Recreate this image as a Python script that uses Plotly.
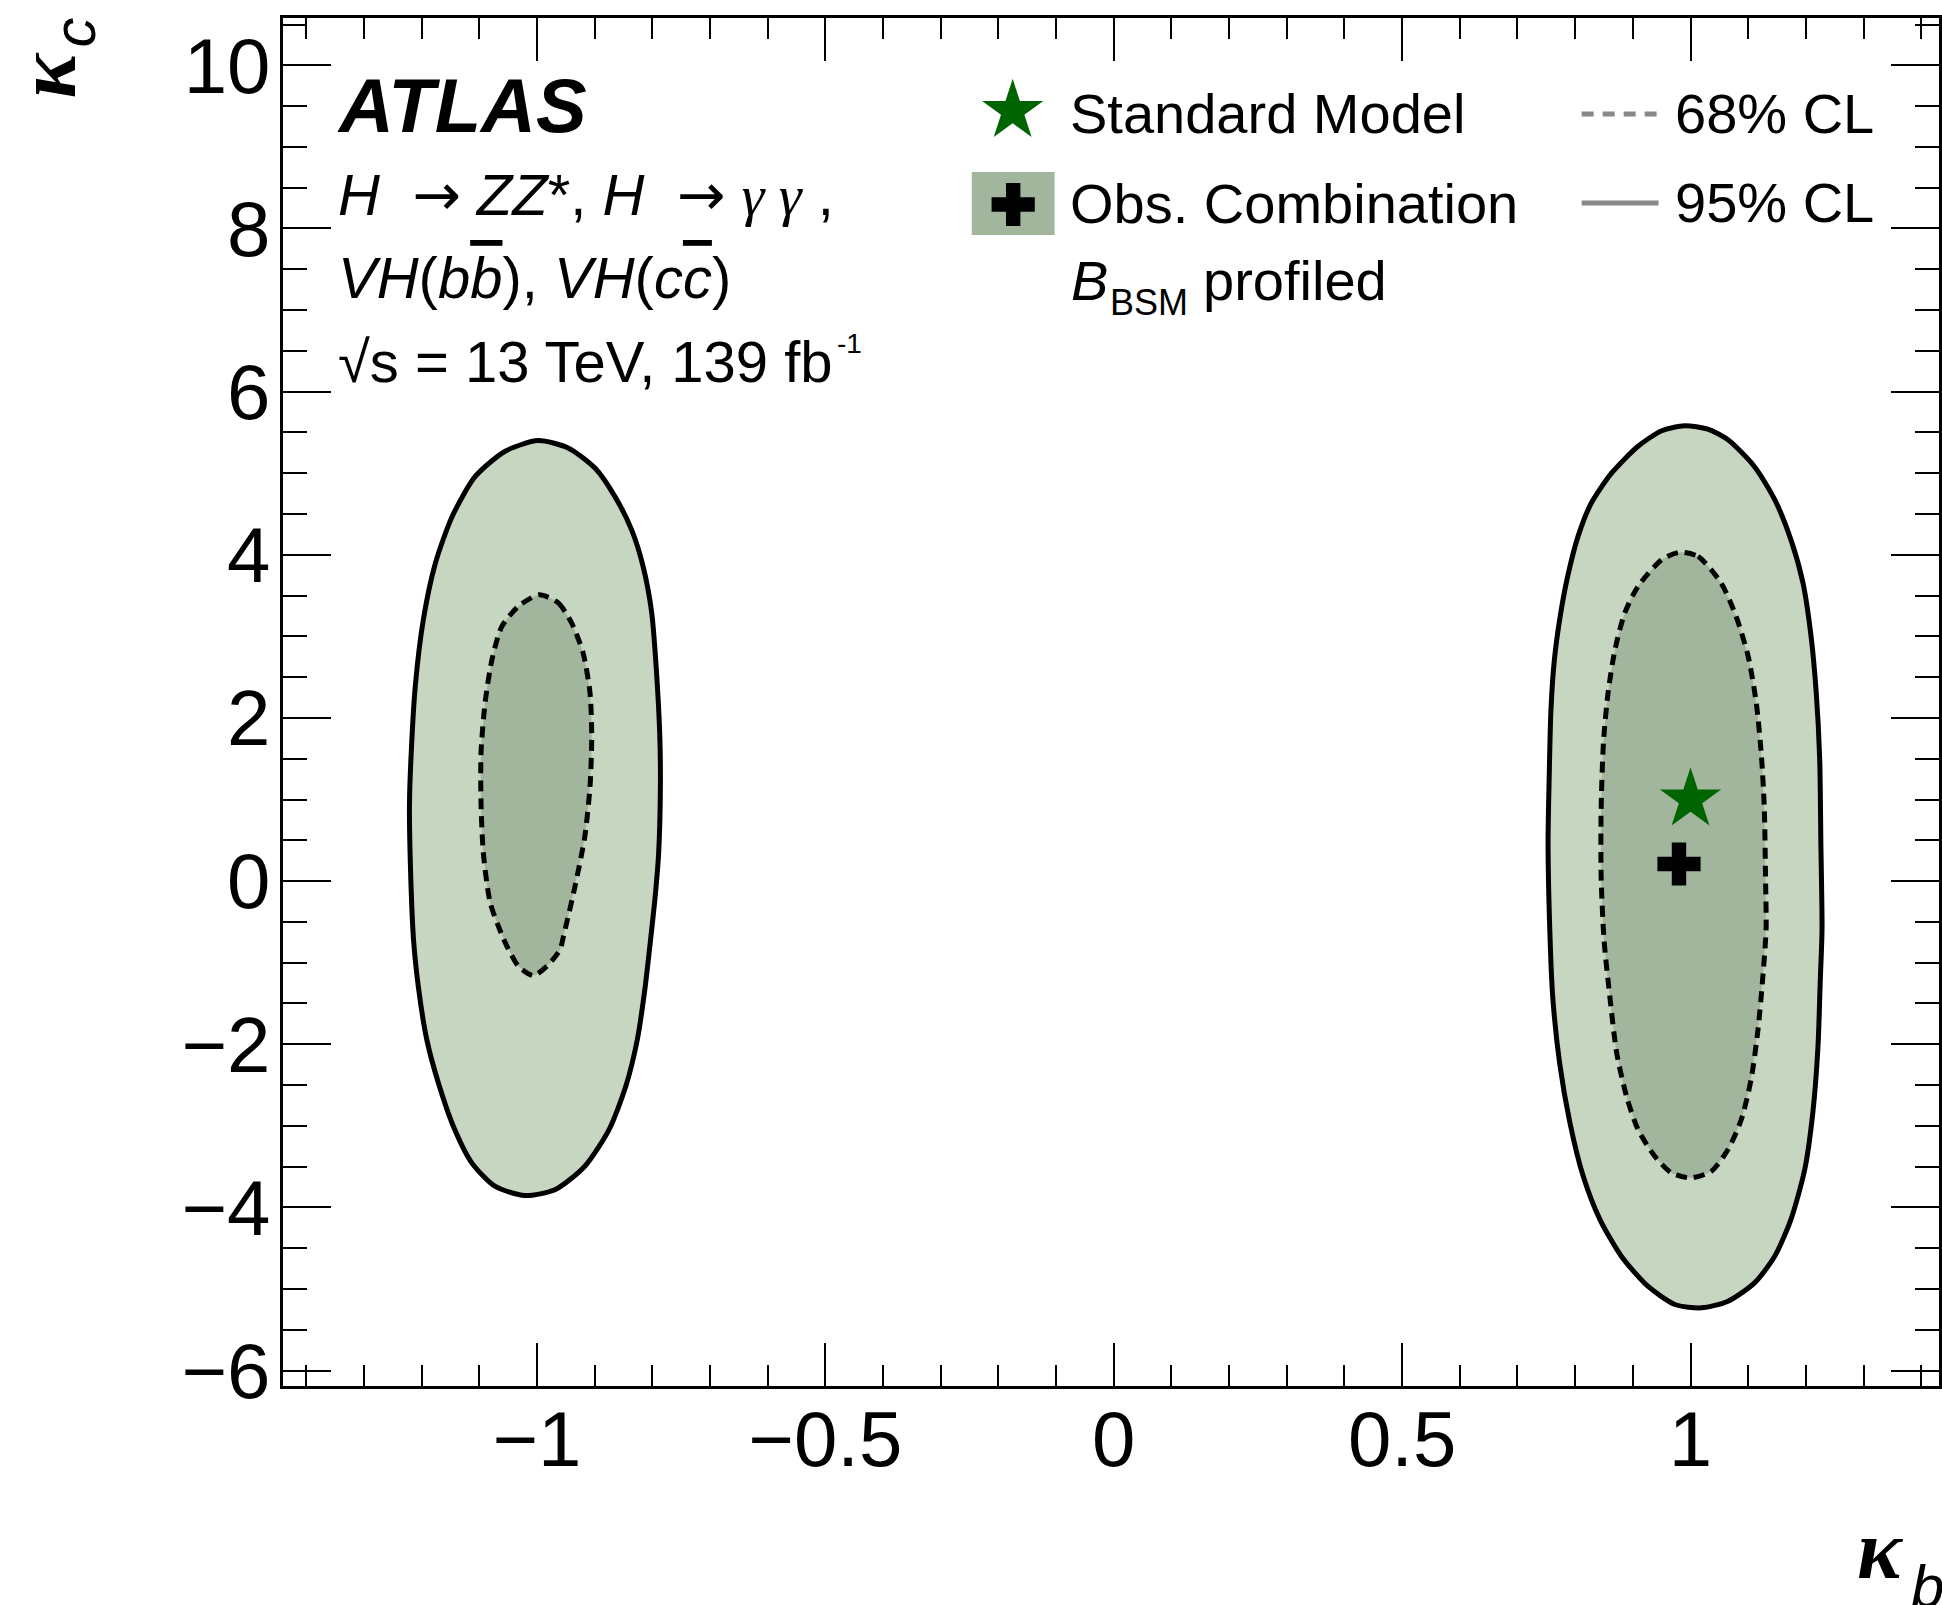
import plotly.graph_objects as go

# ---------------- data ----------------
# 95% CL contour around kappa_b ~ +1
r95_x = [0.990, 1.030, 1.065, 1.111, 1.146, 1.174, 1.195, 1.209, 1.218, 1.224, 1.226, 1.228, 1.225, 1.221,
         1.212, 1.198, 1.174, 1.146, 1.111, 1.065, 1.019, 0.973, 0.926, 0.880, 0.843, 0.814, 0.791, 0.773,
         0.761, 0.756, 0.753, 0.755, 0.758, 0.764, 0.774, 0.787, 0.805, 0.828, 0.863, 0.909, 0.950, 0.990]
r95_y = [5.583, 5.540, 5.410, 5.080, 4.676, 4.186, 3.655, 3.000, 2.307, 1.490, 0.468, -0.594, -1.207, -2.025,
         -2.841, -3.536, -4.149, -4.598, -4.925, -5.150, -5.231, -5.190, -4.966, -4.598, -4.149, -3.618, -2.964, -2.228,
         -1.410, -0.594, 0.468, 1.285, 2.100, 2.715, 3.246, 3.736, 4.226, 4.635, 5.000, 5.330, 5.520, 5.583]
# 68% CL contour around kappa_b ~ +1
r68_x = [0.981, 1.013, 1.053, 1.079, 1.100, 1.114, 1.123, 1.128, 1.130, 1.131, 1.125, 1.117, 1.105, 1.088,
         1.065, 1.036, 1.000, 0.967, 0.938, 0.909, 0.889, 0.872, 0.860, 0.850, 0.845, 0.845, 0.849, 0.857,
         0.869, 0.886, 0.909, 0.950, 0.981]
r68_y = [4.030, 3.980, 3.655, 3.246, 2.755, 2.184, 1.530, 0.876, 0.059, -0.594, -1.207, -1.820, -2.433, -2.923,
         -3.291, -3.557, -3.638, -3.577, -3.373, -3.046, -2.637, -2.106, -1.410, -0.717, 0.059, 0.876, 1.694, 2.307,
         2.837, 3.287, 3.613, 3.940, 4.030]
# 95% CL contour around kappa_b ~ -1
l95_x = [-0.998, -0.946, -0.899, -0.865, -0.836, -0.816, -0.801, -0.793, -0.787, -0.786, -0.789, -0.795,
         -0.803, -0.813, -0.826, -0.846, -0.875, -0.917, -0.968, -1.021, -1.073, -1.113, -1.145, -1.171,
         -1.191, -1.205, -1.214, -1.220, -1.221, -1.218, -1.211, -1.197, -1.176, -1.147, -1.107, -1.055, -0.998]
l95_y = [5.400, 5.310, 5.060, 4.716, 4.308, 3.858, 3.287, 2.592, 1.775, 1.162, 0.346, -0.186,
         -0.717, -1.330, -1.943, -2.515, -3.046, -3.495, -3.780, -3.855, -3.740, -3.454, -3.005, -2.473,
         -1.943, -1.330, -0.717, 0.346, 0.958, 1.571, 2.387, 3.205, 3.900, 4.470, 4.960, 5.270, 5.400]
# 68% CL contour around kappa_b ~ -1
l68_x = [-0.996, -0.963, -0.940, -0.920, -0.908, -0.905, -0.908, -0.917, -0.934, -0.954, -0.960, -0.980, -1.006,
         -1.032, -1.052, -1.061, -1.081, -1.093, -1.097, -1.097, -1.090, -1.078, -1.061, -1.032, -0.996]
l68_y = [3.510, 3.410, 3.165, 2.797, 2.307, 1.775, 1.162, 0.549, -0.064, -0.676, -0.840, -1.023, -1.158,
         -1.044, -0.799, -0.656, -0.267, 0.346, 0.958, 1.571, 2.184, 2.715, 3.120, 3.370, 3.510]

sm_point = [1.0, 1.0]       # Standard Model
best_fit = [0.98, 0.21]     # observed best fit

x_ticks = [-1, -0.5, 0, 0.5, 1]
y_ticks = [-6, -4, -2, 0, 2, 4, 6, 8, 10]

# ---------------- style / layout ----------------
W, H = 1942, 1605
PL, PR, PT, PB = 283, 1942, 18, 1386
XR = [-1.4403, 1.4308]
YR = [-6.189, 10.580]
C95 = "rgb(198,214,193)"
C68 = "rgb(162,182,158)"
GREEN = "rgb(0,100,0)"
GRAY = "rgb(136,136,136)"
SANS = "Liberation Sans"
SERIF = "Liberation Serif"
NB = "\u00a0"
ARROW = NB + " <span style=\"font-family:'DejaVu Sans'\">→</span> "


def xp(X):
    return (X - PL) / (PR - PL)


def yp(Y):
    return (PB - Y) / (PB - PT)


fig = go.Figure()

for xs, ys in [(r95_x, r95_y), (l95_x, l95_y)]:
    fig.add_trace(go.Scatter(x=xs, y=ys, mode="lines", fill="toself", fillcolor=C95,
                             line=dict(color="black", width=5, shape="spline", smoothing=0.7),
                             hoverinfo="skip", showlegend=False))
for xs, ys in [(r68_x, r68_y), (l68_x, l68_y)]:
    fig.add_trace(go.Scatter(x=xs, y=ys, mode="lines", fill="toself", fillcolor=C68,
                             line=dict(color="black", width=5, dash="11px,7px", shape="spline", smoothing=0.7),
                             hoverinfo="skip", showlegend=False))

fig.add_trace(go.Scatter(x=[sm_point[0]], y=[sm_point[1]], mode="markers",
                         marker=dict(symbol="star", size=46, color=GREEN, line=dict(width=0)),
                         hoverinfo="skip", showlegend=False))
fig.add_trace(go.Scatter(x=[best_fit[0]], y=[best_fit[1]], mode="markers",
                         marker=dict(symbol="cross", size=36, color="black", line=dict(width=0)),
                         hoverinfo="skip", showlegend=False))

# legend sample markers on a pixel-unit overlay axis
fig.add_trace(go.Scatter(x=[1014], y=[111], mode="markers", xaxis="x2", yaxis="y2",
                         marker=dict(symbol="star", size=46, color=GREEN, line=dict(width=0)),
                         hoverinfo="skip", showlegend=False))
fig.add_trace(go.Scatter(x=[1014.5], y=[204.5], mode="markers", xaxis="x2", yaxis="y2",
                         marker=dict(symbol="cross", size=36, color="black", line=dict(width=0)),
                         hoverinfo="skip", showlegend=False))

shapes = [
    dict(type="rect", xref="x2", yref="y2", x0=973, x1=1056, y0=172, y1=235,
         fillcolor=C68, line=dict(width=0), layer="below"),
    dict(type="line", xref="x2", yref="y2", x0=1584, x1=1661, y0=114, y1=114,
         line=dict(color=GRAY, width=5, dash="12px,9px")),
    dict(type="line", xref="x2", yref="y2", x0=1584, x1=1661, y0=203, y1=203,
         line=dict(color=GRAY, width=5)),
]

annotations = []


def ann(text, X, Yb, size, family=SANS, asc=0.905, desc=0.212, **kw):
    annotations.append(dict(text=text, xref="paper", yref="paper", x=xp(X),
                            y=yp(Yb - (asc - desc) / 2 * size), xanchor="left", yanchor="middle",
                            showarrow=False, borderpad=0, borderwidth=0,
                            font=dict(family=family, size=size, color="black"), **kw))


TB = 58
ann("<b><i>ATLAS</i></b>", 337, 132, 76)
ann("<i>H</i>" + ARROW + "<i>ZZ</i>*, <i>H</i>" + ARROW +
    "<span style=\"font-family:'Liberation Serif'\"><i>γ γ</i></span> ,", 338, 215, TB)
ann("<i>VH</i>(<i>b<span style=\"text-decoration:overline\">b</span></i>), "
    "<i>VH</i>(<i>c<span style=\"text-decoration:overline\">c</span></i>)", 338, 298, TB)
ann("√s = 13 TeV, 139 fb", 338, 382, TB)
ann("-1", 838, 353, 28)

ann("Standard Model", 1071, 133, 56)
ann("Obs. Combination", 1071, 223, 56)
ann("<i>B</i>", 1072, 300, 56)
ann("BSM", 1111, 315, 36)
ann("profiled", 1205, 300, 56)
ann("68% CL", 1678, 133, 56)
ann("95% CL", 1678, 222, 56)

# axis titles
ann("<b><i>κ</i></b>", 1860, 1578, 84, family=SERIF, asc=0.891, desc=0.216)
ann("<i>b</i>", 1914, 1607, 60)
annotations.append(dict(text="<b><i>κ</i></b>", xref="paper", yref="paper", x=xp(47), y=yp(75),
                        xanchor="center", yanchor="middle", textangle=-90, showarrow=False,
                        borderpad=0, borderwidth=0, font=dict(family=SERIF, size=84, color="black")))
annotations.append(dict(text="<i>c</i>", xref="paper", yref="paper", x=xp(75), y=yp(32),
                        xanchor="center", yanchor="middle", textangle=-90, showarrow=False,
                        borderpad=0, borderwidth=0, font=dict(family=SANS, size=60, color="black")))

axis_common = dict(showgrid=False, zeroline=False, showline=True, linewidth=3, linecolor="black",
                   mirror="ticks", ticks="inside", tickwidth=2, tickcolor="black",
                   tickfont=dict(family=SANS, size=78, color="black"))

fig.update_layout(
    width=W, height=H,
    margin=dict(l=PL, r=W - PR, t=PT, b=H - PB, pad=0),
    paper_bgcolor="white", plot_bgcolor="white",
    showlegend=False,
    xaxis=dict(range=XR, tickmode="array", tickvals=x_ticks, ticklen=43, ticklabelstandoff=-17,
               minor=dict(dtick=0.1, tick0=0, ticks="inside", ticklen=21, tickwidth=2, tickcolor="black"),
               **axis_common),
    yaxis=dict(range=YR, tickmode="array", tickvals=y_ticks, ticklen=48, ticklabelstandoff=-6,
               minor=dict(dtick=0.5, tick0=0, ticks="inside", ticklen=24, tickwidth=2, tickcolor="black"),
               **axis_common),
    xaxis2=dict(overlaying="x", anchor="y2", range=[PL, PR], visible=False, fixedrange=True),
    yaxis2=dict(overlaying="y", anchor="x2", range=[PB, PT], visible=False, fixedrange=True),
    shapes=shapes,
    annotations=annotations,
)

fig.write_html("out.html")
